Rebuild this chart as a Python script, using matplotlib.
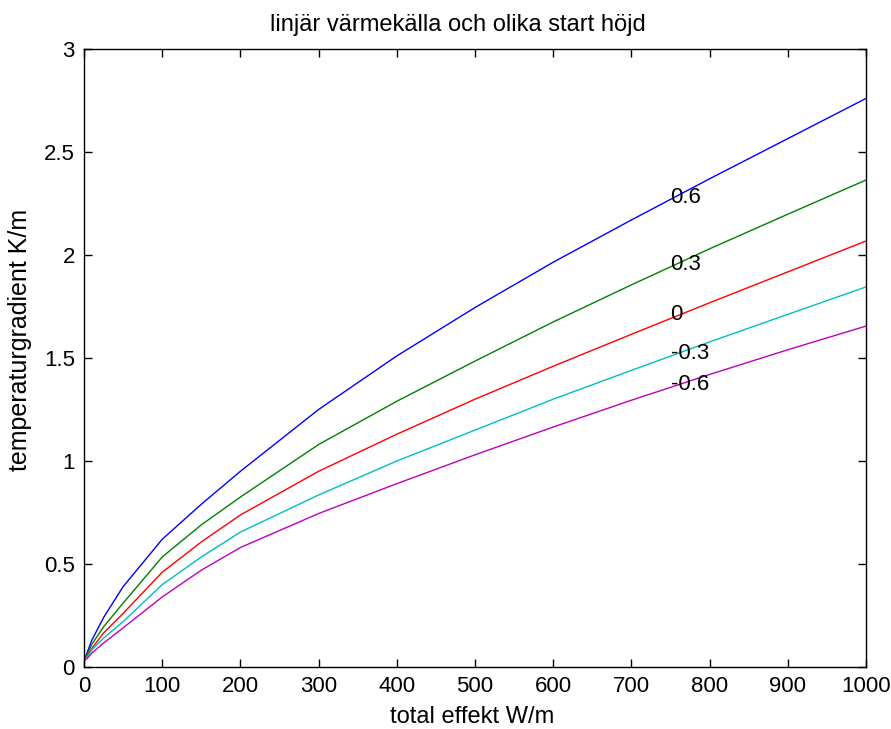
import matplotlib
matplotlib.use('Agg')
import matplotlib.pyplot as plt

# --- DATA ---
effekt = [0, 5, 10, 25, 50, 100, 150, 200, 300, 400, 500, 600, 700, 800, 900, 1000]

grad_p06 = [0.03, 0.08, 0.13, 0.24, 0.39, 0.62, 0.79, 0.95, 1.25, 1.51, 1.745, 1.965, 2.17, 2.37, 2.565, 2.76]
grad_p03 = [0.03, 0.07, 0.11, 0.195, 0.31, 0.534, 0.69, 0.825, 1.08, 1.29, 1.485, 1.675, 1.855, 2.03, 2.198, 2.364]
grad_0 = [0.03, 0.06, 0.09, 0.165, 0.26, 0.46, 0.607, 0.738, 0.95, 1.13, 1.30, 1.46, 1.615, 1.768, 1.918, 2.068]
grad_m03 = [0.03, 0.055, 0.083, 0.14, 0.22, 0.40, 0.534, 0.655, 0.835, 1.0, 1.15, 1.30, 1.44, 1.578, 1.712, 1.845]
grad_m06 = [0.03, 0.045, 0.068, 0.116, 0.19, 0.34, 0.47, 0.58, 0.745, 0.89, 1.03, 1.165, 1.295, 1.42, 1.54, 1.655]

curve_labels = ['0.6', '0.3', '0', '-0.3', '-0.6']
label_x = 750
label_y = [2.28, 1.955, 1.71, 1.52, 1.37]

x_ticks = [0, 100, 200, 300, 400, 500, 600, 700, 800, 900, 1000]
y_ticks = [0, 0.5, 1, 1.5, 2, 2.5, 3]
y_ticklabels = ['0', '0.5', '1', '1.5', '2', '2.5', '3']

# --- STYLE ---
COLORS = ['#0000ff', '#008000', '#ff0000', '#00bfbf', '#bf00bf']
FONT = 'Liberation Sans'
NUM_SIZE = 16

fig = plt.figure(figsize=(8.91, 7.29), dpi=100, facecolor='white')
ax = fig.add_axes([0.09428, 0.08505, 0.87767, 0.84774])

series = [grad_p06, grad_p03, grad_0, grad_m03, grad_m06]
for vals, col in zip(series, COLORS):
    ax.plot(effekt, vals, color=col, linewidth=1.0)

for txt, y in zip(curve_labels, label_y):
    ax.text(label_x, y, txt, ha='left', va='center', fontsize=NUM_SIZE, family=FONT, color='black')

ax.set_xlim(0, 1000)
ax.set_ylim(0, 3)
ax.set_xticks(x_ticks)
ax.set_yticks(y_ticks)
ax.set_yticklabels(y_ticklabels)

ax.tick_params(direction='in', length=6, width=1, top=True, right=True, pad=6.5)
for lbl in ax.get_xticklabels() + ax.get_yticklabels():
    lbl.set_fontsize(NUM_SIZE)
    lbl.set_family(FONT)
for sp in ax.spines.values():
    sp.set_linewidth(1)

ax.set_xlabel('total effekt W/m', fontsize=17, family=FONT)
ax.xaxis.set_label_coords(0.496, -0.063)
ax.set_ylabel('temperaturgradient K/m', fontsize=18, family=FONT)
ax.yaxis.set_label_coords(-0.066, 0.529)
ax.set_title('linjär värmekälla och olika start höjd', fontsize=17, family=FONT, pad=13, x=0.478)

fig.savefig('out.png', dpi=100)
